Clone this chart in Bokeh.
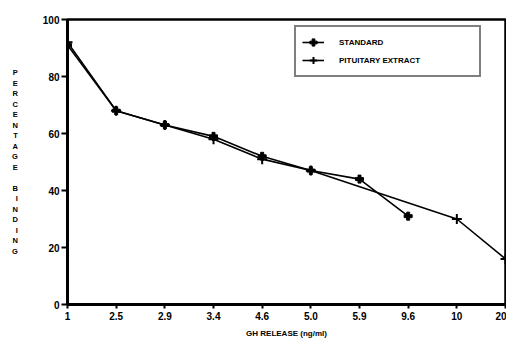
from bokeh.plotting import figure
from bokeh.models import Range1d, FixedTicker, Legend, LegendItem
from bokeh.embed import file_html
from bokeh.resources import INLINE

# Data
categories = ["1", "2.5", "2.9", "3.4", "4.6", "5.0", "5.9", "9.6", "10", "20"]
standard_cats = ["1", "2.5", "2.9", "3.4", "4.6", "5.0", "5.9", "9.6"]
standard_vals = [91, 68, 63, 59, 52, 47, 44, 31]
pituitary_cats = ["1", "2.5", "2.9", "3.4", "4.6", "5.0", "10", "20"]
pituitary_vals = [92, 68, 63, 58, 51, 47, 30, 16]
y_ticks = [0, 20, 40, 60, 80, 100]

FONT = "Liberation Sans"

std_x = [categories.index(c) for c in standard_cats]
pit_x = [categories.index(c) for c in pituitary_cats]

p = figure(frame_width=438, frame_height=285, output_backend="svg",
           toolbar_location=None,
           x_range=Range1d(0, len(categories) - 1), y_range=Range1d(0, 100),
           min_border_left=67, min_border_top=19, min_border_right=1,
           min_border_bottom=33)
p.background_fill_color = "white"
p.border_fill_color = "white"
p.xgrid.visible = False
p.ygrid.visible = False
p.outline_line_color = "black"
p.outline_line_width = 2.5
p.outline_line_alpha = 1

# axes
p.xaxis.ticker = FixedTicker(ticks=list(range(len(categories))))
p.xaxis.major_label_overrides = {i: c for i, c in enumerate(categories)}
p.yaxis.ticker = FixedTicker(ticks=y_ticks)
for ax in (p.xaxis, p.yaxis):
    ax.axis_line_width = 3
    ax.axis_line_color = "black"
    ax.major_tick_line_width = 2
    ax.major_tick_line_color = "black"
    ax.major_tick_in = 0
    ax.minor_tick_line_color = None
    ax.major_label_text_font = FONT
    ax.major_label_text_font_style = "bold"
    ax.major_label_text_font_size = "10px"
    ax.major_label_text_color = "black"
    ax.axis_label_text_font = FONT
    ax.axis_label_text_font_style = "bold"
    ax.axis_label_text_color = "black"
p.xaxis.major_tick_out = 4
p.xaxis.major_label_standoff = 3
p.yaxis.major_tick_out = 6
p.yaxis.major_label_standoff = 2

p.xaxis.axis_label = "GH RELEASE (ng/ml)"
p.xaxis.axis_label_text_font_size = "8px"
p.xaxis.axis_label_standoff = 6

p.yaxis.axis_label = "\n".join(list("PERCENTAGE")) + "\n\n" + "\n".join(list("BINDING"))
p.yaxis.axis_label_orientation = "horizontal"
p.yaxis.axis_label_text_font_size = "7.5px"
p.yaxis.axis_label_text_line_height = 1.17
p.yaxis.axis_label_standoff = 22

# series
l1 = p.line(std_x, standard_vals, line_color="black", line_width=1.6)
m1 = p.scatter(std_x, standard_vals, marker="plus", size=8,
               fill_color="black", line_color="black")
l2 = p.line(pit_x, pituitary_vals, line_color="black", line_width=1.6)
m2 = p.scatter(pit_x, pituitary_vals, marker="cross", size=10,
               line_color="black", line_width=2)

legend = Legend(items=[LegendItem(label="STANDARD", renderers=[l1, m1]),
                       LegendItem(label="PITUITARY EXTRACT", renderers=[l2, m2])],
                location=(227, 227))
legend.border_line_color = "black"
legend.border_line_width = 2.5
legend.background_fill_alpha = 1
legend.padding = 6
legend.spacing = 0
legend.margin = 0
legend.glyph_width = 22
legend.glyph_height = 18
legend.label_height = 18
legend.label_standoff = 15
legend.label_width = 134
legend.label_text_font = FONT
legend.label_text_font_style = "bold"
legend.label_text_font_size = "8px"
legend.label_text_color = "black"
p.add_layout(legend, "center")

open("out.html", "w").write(file_html(p, INLINE))
